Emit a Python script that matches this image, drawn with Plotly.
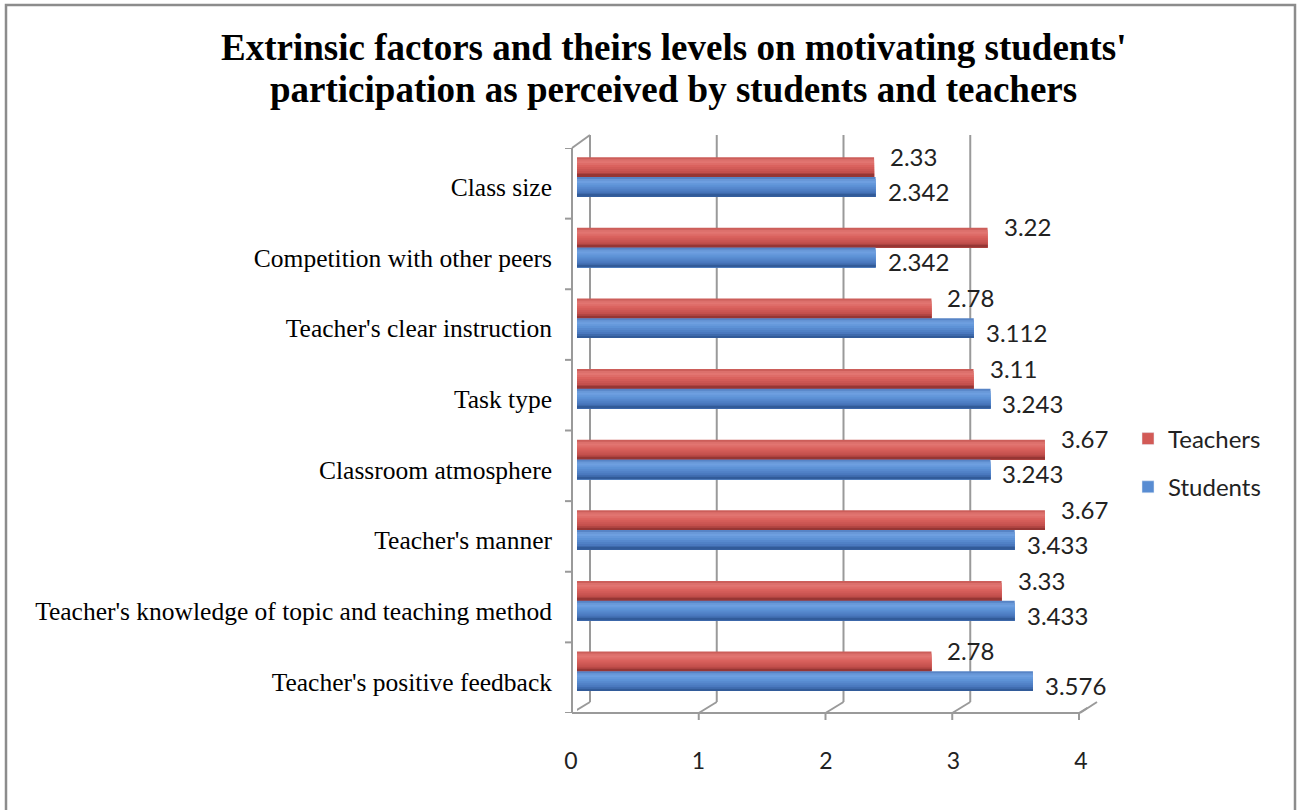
import plotly.graph_objects as go

# ---- data -------------------------------------------------------------
factors = [
    "Class size",
    "Competition with other peers",
    "Teacher's clear instruction",
    "Task type",
    "Classroom atmosphere",
    "Teacher's manner",
    "Teacher's knowledge of topic and teaching method",
    "Teacher's positive feedback",
]
teachers = [2.33, 3.22, 2.78, 3.11, 3.67, 3.67, 3.33, 2.78]
students = [2.342, 2.342, 3.112, 3.243, 3.243, 3.433, 3.433, 3.576]
x_ticks = [0, 1, 2, 3, 4]
title_lines = [
    "Extrinsic factors and theirs levels on motivating students'",
    "participation as perceived by students and teachers",
]

# ---- geometry of the figure (pixels) -----------------------------------
W, H = 1302, 810
ML, MR, MT, MB = 577, 215, 148, 97
PW, PH = W - ML - MR, H - MT - MB


def px(x):
    return (x - ML) / PW


def py(y):
    return (H - MB - y) / PH


def lerp_color(stops, t):
    for (t0, c0), (t1, c1) in zip(stops, stops[1:]):
        if t0 <= t <= t1:
            f = (t - t0) / (t1 - t0) if t1 > t0 else 0
            c = [round(a + (b - a) * f) for a, b in zip(c0, c1)]
            return f"rgb({c[0]},{c[1]},{c[2]})"
    c = stops[-1][1]
    return f"rgb({c[0]},{c[1]},{c[2]})"


red_stops = [(0.0, (196, 84, 80)), (0.2, (228, 122, 118)), (0.45, (218, 98, 94)),
             (0.75, (196, 80, 77)), (1.0, (138, 48, 46))]
blue_stops = [(0.0, (78, 122, 188)), (0.2, (114, 162, 226)), (0.45, (93, 146, 214)),
              (0.75, (74, 120, 190)), (1.0, (44, 84, 144))]

fig = go.Figure()

BAR_W = 0.28
N_BANDS = 10
series = [
    ("Teachers", teachers, red_stops, -0.37, "rgb(210,90,86)"),
    ("Students", students, blue_stops, -0.09, "rgb(88,140,210)"),
]

# cylinder-like bars: stacked bands, each covering from its top edge to the bar bottom
for name, vals, stops, off, legend_col in series:
    for i in range(N_BANDS):
        t0 = i / N_BANDS
        fig.add_trace(go.Bar(
            x=vals, y=factors, orientation="h",
            offset=off + t0 * BAR_W, width=BAR_W * (1 - t0),
            marker=dict(color=lerp_color(stops, t0 + 0.5 / N_BANDS), line=dict(width=0)),
            name=name, legendgroup=name, showlegend=False, hoverinfo="skip",
        ))
    # legend entry
    fig.add_trace(go.Bar(
        x=[None], y=[factors[0]], orientation="h", name=name, legendgroup=name,
        marker=dict(color=legend_col), showlegend=True,
    ))

# ---- value labels ---------------------------------------------------------
LABEL_FONT = dict(family="Lato", size=24, color="#222222")
annotations = []
for f, v in zip(factors, teachers):
    annotations.append(dict(x=v, y=f, xref="x", yref="y", text=f"{v:.2f}",
                            showarrow=False, xanchor="left", yanchor="middle",
                            xshift=14, yshift=27, font=LABEL_FONT))
for f, v in zip(factors, students):
    annotations.append(dict(x=v, y=f, xref="x", yref="y", text=f"{v:.3f}",
                            showarrow=False, xanchor="left", yanchor="middle",
                            xshift=10, yshift=-8, font=LABEL_FONT))

# ---- title (two centred lines) ------------------------------------------------
for line, ypix in zip(title_lines, [47, 90]):
    annotations.append(dict(x=px(673), y=py(ypix), xref="paper", yref="paper",
                            text=line, showarrow=False, xanchor="center",
                            yanchor="middle",
                            font=dict(family="Liberation Serif", size=37,
                                      color="black", weight="bold")))

# ---- 3-D frame: walls, floor and gridlines ----------------------------------
GRID = dict(color="#9a9a9a", width=2)
shapes = []
# outer border of the chart area
shapes.append(dict(type="rect", xref="paper", yref="paper",
                   x0=px(6), x1=px(1295), y0=py(830), y1=py(5),
                   line=dict(color="#8c8c8c", width=2.5), layer="below"))
for k in x_ticks:
    back = 13 - 0.75 * k
    front = -5 - 0.75 * k
    shapes.append(dict(type="line", xref="x", xsizemode="pixel", xanchor=k,
                       x0=back, x1=back, yref="paper", y0=py(702), y1=py(135),
                       line=GRID, layer="below"))
    shapes.append(dict(type="line", xref="x", xsizemode="pixel", xanchor=k,
                       x0=back, x1=front, yref="paper", y0=py(702), y1=py(713),
                       line=GRID, layer="below"))
    shapes.append(dict(type="line", xref="x", xsizemode="pixel", xanchor=k,
                       x0=front, x1=front, yref="paper", y0=py(713), y1=py(720),
                       line=GRID, layer="below"))
# front floor edge, right floor edge, left wall and its top edge
for (x0, y0, x1, y1) in [(572, 713, 1080, 713), (1080, 713, 1097, 702),
                         (572, 713, 572, 148), (572, 148, 590, 135)]:
    shapes.append(dict(type="line", xref="paper", yref="paper",
                       x0=px(x0), y0=py(y0), x1=px(x1), y1=py(y1),
                       line=GRID, layer="below"))
# category boundary ticks on the left wall
for j in range(len(factors) + 1):
    shapes.append(dict(type="line", xref="paper", yref="y",
                       x0=px(565), x1=px(572), y0=j - 0.5, y1=j - 0.5,
                       line=GRID, layer="below"))

fig.update_layout(
    width=W, height=H,
    margin=dict(l=ML, r=MR, t=MT, b=MB, pad=0, autoexpand=False),
    paper_bgcolor="white", plot_bgcolor="white",
    barmode="overlay",
    xaxis=dict(range=[0, 4], tickvals=x_ticks, ticktext=[str(t) for t in x_ticks],
               showgrid=False, zeroline=False, showline=False, ticks="",
               automargin=False,
               ticklabelstandoff=32, ticklabelshift=-6,
               tickfont=dict(family="Lato", size=23, color="#222222")),
    yaxis=dict(categoryorder="array", categoryarray=factors,
               range=[len(factors) - 0.5, -0.5],
               showgrid=False, zeroline=False, showline=False, ticks="",
               automargin=False,
               ticklabelstandoff=24, ticklabelshift=-4,
               tickfont=dict(family="Liberation Serif", size=25.5, color="black")),
    legend=dict(x=px(1128), y=py(463), xanchor="left", yanchor="middle",
                traceorder="grouped", tracegroupgap=14,
                font=dict(family="Lato", size=24, color="#222222"),
                bgcolor="rgba(0,0,0,0)"),
    shapes=shapes,
    annotations=annotations,
    showlegend=True,
)

fig.write_html("out.html")
